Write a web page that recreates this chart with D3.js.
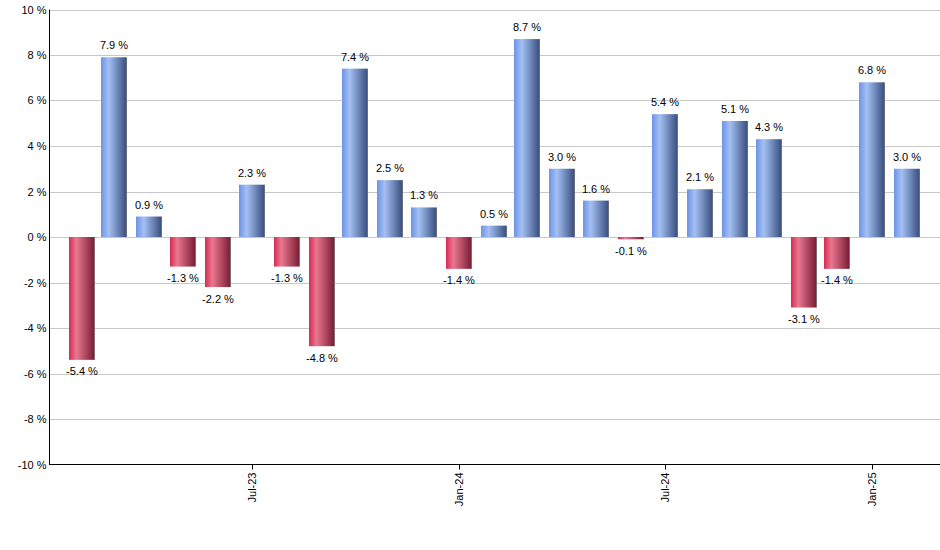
<!DOCTYPE html>
<html>
<head>
<meta charset="utf-8">
<script src="https://cdn.jsdelivr.net/npm/d3@7"></script>
<style>
  html, body { margin: 0; padding: 0; background: #fff; }
  svg { display: block; font-family: "Liberation Sans", Arial, sans-serif; }
</style>
</head>
<body>
<svg id="chart" width="940" height="550"></svg>
<script>
// ---- data ----
const months = [
  "2023-02-01","2023-03-01","2023-04-01","2023-05-01","2023-06-01","2023-07-01",
  "2023-08-01","2023-09-01","2023-10-01","2023-11-01","2023-12-01","2024-01-01",
  "2024-02-01","2024-03-01","2024-04-01","2024-05-01","2024-06-01","2024-07-01",
  "2024-08-01","2024-09-01","2024-10-01","2024-11-01","2024-12-01","2025-01-01",
  "2025-02-01"
];
const values = [
  -5.4, 7.9, 0.9, -1.3, -2.2, 2.3,
  -1.3, -4.8, 7.4, 2.5, 1.3, -1.4,
  0.5, 8.7, 3.0, 1.6, -0.1, 5.4,
  2.1, 5.1, 4.3, -3.1, -1.4, 6.8,
  3.0
];
const yTicks = [-10, -8, -6, -4, -2, 0, 2, 4, 6, 8, 10];
const xTickDates = ["2023-07-01", "2024-01-01", "2024-07-01", "2025-01-01"];
const xTickLabels = ["Jul-23", "Jan-24", "Jul-24", "Jan-25"];

// ---- layout ----
const svg = d3.select("#chart");
const pLeft = 49.5, pRight = 940, pTop = 9.5, pBottom = 464.5;
const parse = d3.utcParse("%Y-%m-%d");
const x = d3.scaleUtc()
  .domain([parse("2023-01-03"), parse("2025-03-01")])
  .range([pLeft, 939]);
const y = d3.scaleLinear().domain([-10, 10]).range([pBottom, pTop]);
const barW = 26;

// gradients
const defs = svg.append("defs");
const gPos = defs.append("linearGradient").attr("id", "gpos")
  .attr("x1", "0").attr("x2", "1").attr("y1", "0").attr("y2", "0");
[["0%", "#6e93e6"], ["30%", "#a4c0f3"], ["96%", "#3b5282"], ["96.1%", "#6a6f7a"], ["100%", "#6a6f7a"]]
  .forEach(s => gPos.append("stop").attr("offset", s[0]).attr("stop-color", s[1]));
const gNeg = defs.append("linearGradient").attr("id", "gneg")
  .attr("x1", "0").attr("x2", "1").attr("y1", "0").attr("y2", "0");
[["0%", "#d62a52"], ["28%", "#e9788f"], ["96%", "#7c1f37"], ["96.1%", "#7a6f72"], ["100%", "#7a6f72"]]
  .forEach(s => gNeg.append("stop").attr("offset", s[0]).attr("stop-color", s[1]));

// grid
svg.append("g").selectAll("line").data(yTicks.filter(d => d !== -10)).join("line")
  .attr("x1", pLeft).attr("x2", pRight)
  .attr("y1", d => Math.round(y(d)) + 0.5).attr("y2", d => Math.round(y(d)) + 0.5)
  .attr("stroke", "#c8c8c8").attr("stroke-width", 1);

// y labels
svg.append("g").selectAll("text").data(yTicks).join("text")
  .attr("x", 46.5).attr("y", d => Math.round(y(d)) + 0.5)
  .attr("dy", "0.35em")
  .attr("text-anchor", "end")
  .attr("font-size", "11px").attr("fill", "#000")
  .text(d => d + " %");

// bars
const data = months.map((m, i) => ({ date: parse(m), v: values[i] }));
svg.append("g").selectAll("rect").data(data).join("rect")
  .attr("x", d => Math.round(x(d.date) - barW / 2))
  .attr("width", barW)
  .attr("y", d => d.v >= 0 ? y(d.v) : y(0))
  .attr("height", d => Math.abs(y(d.v) - y(0)))
  .attr("fill", d => d.v >= 0 ? "url(#gpos)" : "url(#gneg)");

// value labels
svg.append("g").selectAll("text").data(data).join("text")
  .attr("x", d => Math.round(x(d.date)))
  .attr("y", d => d.v >= 0 ? y(d.v) - 8 : y(d.v) + 15.5)
  .attr("text-anchor", "middle")
  .attr("font-size", "11px").attr("fill", "#000")
  .text(d => d.v.toFixed(1) + " %");

// axes lines
svg.append("line").attr("x1", pLeft).attr("x2", pLeft).attr("y1", pTop).attr("y2", pBottom + 0.5)
  .attr("stroke", "#000").attr("stroke-width", 1);
svg.append("line").attr("x1", pLeft).attr("x2", pRight).attr("y1", pBottom).attr("y2", pBottom)
  .attr("stroke", "#000").attr("stroke-width", 1);

// x ticks
const xt = svg.append("g").selectAll("g").data(xTickDates.map((d, i) => ({ d: parse(d), t: xTickLabels[i] })))
  .join("g").attr("transform", d => `translate(${Math.round(x(d.d)) + 0.5},${pBottom})`);
xt.append("line").attr("y1", 0).attr("y2", 5).attr("stroke", "#000");
xt.append("text")
  .attr("transform", "translate(0,8) rotate(-90)")
  .attr("text-anchor", "end").attr("dy", "0.35em")
  .attr("font-size", "11px").attr("fill", "#000")
  .text(d => d.t);
</script>
</body>
</html>
